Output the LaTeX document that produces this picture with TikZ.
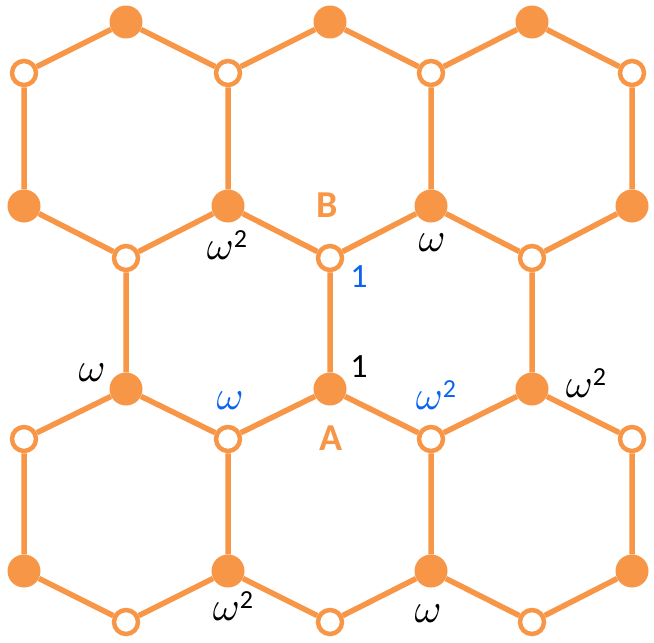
\documentclass[tikz,border=0pt]{standalone}
\usepackage{graphicx}
\usepackage{fontspec}
\setmainfont{Carlito}
\definecolor{org}{HTML}{F79646}
\definecolor{blu}{HTML}{0A64F0}
\newcommand{\om}{\scalebox{4.1}{\fontsize{10}{12}\selectfont$\omega$}}
\newcommand{\omsq}{\om\raisebox{12pt}{\fontsize{26}{26}\selectfont 2}}
\begin{document}
\begin{tikzpicture}[x=1pt,y=-1pt,
  fil/.style={circle,fill=org,draw=none,minimum size=33pt,inner sep=0pt},
  opn/.style={circle,fill=white,draw=org,line width=4.5pt,minimum size=24pt,inner sep=0pt},
  edge/.style={draw=org,line width=5.5pt},
  lab/.style={font=\fontsize{34}{40}\selectfont,inner sep=0pt},
  big/.style={font=\fontsize{38}{40}\selectfont\bfseries,text=org,inner sep=0pt}]
\useasboundingbox (0,0) rectangle (654,643);
\node[fil] (T1) at (126,22) {};
\node[fil] (T2) at (330,22) {};
\node[fil] (T3) at (532,22) {};
\node[opn] (O1) at (24,73) {};
\node[opn] (O2) at (228,73) {};
\node[opn] (O3) at (431,73) {};
\node[opn] (O4) at (632,73) {};
\node[fil] (F1) at (24,206) {};
\node[fil] (F2) at (228,206) {};
\node[fil] (F3) at (431,206) {};
\node[fil] (F4) at (632,206) {};
\node[opn] (P1) at (126,258) {};
\node[opn] (P2) at (330,258) {};
\node[opn] (P3) at (532,258) {};
\node[fil] (Q1) at (126,389) {};
\node[fil] (Q2) at (330,389) {};
\node[fil] (Q3) at (532,389) {};
\node[opn] (R1) at (24,439) {};
\node[opn] (R2) at (228,439) {};
\node[opn] (R3) at (431,439) {};
\node[opn] (R4) at (632,439) {};
\node[fil] (S1) at (24,571) {};
\node[fil] (S2) at (228,571) {};
\node[fil] (S3) at (431,571) {};
\node[fil] (S4) at (632,571) {};
\node[opn] (U1) at (126,622) {};
\node[opn] (U2) at (330,622) {};
\node[opn] (U3) at (532,622) {};
\path[edge] (O1) -- (T1) (T1) -- (O2) (O2) -- (T2) (T2) -- (O3) (O3) -- (T3) (T3) -- (O4)
  (O1) -- (F1) (O2) -- (F2) (O3) -- (F3) (O4) -- (F4)
  (F1) -- (P1) (P1) -- (F2) (F2) -- (P2) (P2) -- (F3) (F3) -- (P3) (P3) -- (F4)
  (P1) -- (Q1) (P2) -- (Q2) (P3) -- (Q3)
  (R1) -- (Q1) (Q1) -- (R2) (R2) -- (Q2) (Q2) -- (R3) (R3) -- (Q3) (Q3) -- (R4)
  (R1) -- (S1) (R2) -- (S2) (R3) -- (S3) (R4) -- (S4)
  (S1) -- (U1) (U1) -- (S2) (S2) -- (U2) (U2) -- (S3) (S3) -- (U3) (U3) -- (S4);
\node[big] (lB) at (327,205) {B};
\node[big] (lA) at (331,438) {A};
\node[lab] (l1) at (227,245) {\omsq};
\node[lab] (l2) at (432,243) {\om};
\node[lab,text=blu] (l3) at (359,277) {1};
\node[lab] (l4) at (92,373) {\om};
\node[lab,text=blu] (l5) at (230,401) {\om};
\node[lab] (l6) at (233,606) {\omsq};
\node[lab] (l7) at (359,367) {1};
\node[lab,text=blu] (l8) at (436,395) {\omsq};
\node[lab] (l9) at (586,383) {\omsq};
\node[lab] (l10) at (428,614) {\om};
\end{tikzpicture}
\end{document}
